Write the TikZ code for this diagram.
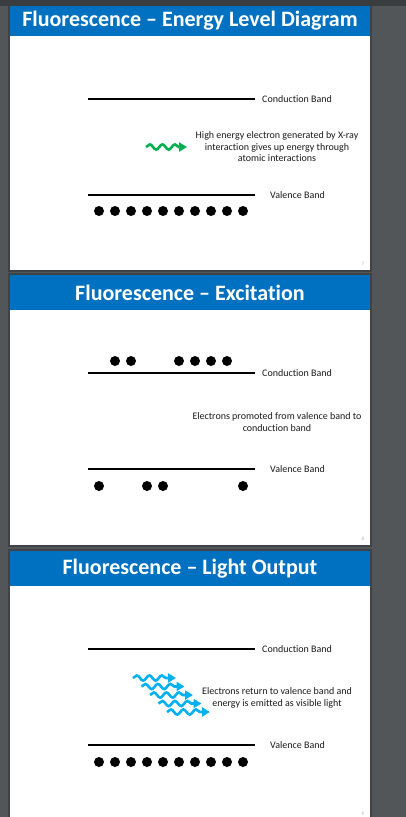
\documentclass[tikz,border=0pt]{standalone}
\usepackage{fontspec}
\setmainfont[Ligatures={NoCommon}]{Carlito}
\usetikzlibrary{arrows.meta, positioning, decorations.pathmorphing}
\definecolor{viewergray}{HTML}{525659}
\definecolor{toolbargray}{HTML}{3A3D40}
\definecolor{shadowgray}{HTML}{404346}
\definecolor{titleblue}{HTML}{0070C0}
\definecolor{xraygreen}{HTML}{00B050}
\definecolor{lightblue}{HTML}{00B0F0}
\definecolor{notegray}{HTML}{1A1A1A}

\begin{document}
\begin{tikzpicture}[x=1pt, y=-1pt,
  slide/.style={fill=white},
  titlebar/.style={fill=titleblue},
  titletext/.style={text=white, inner sep=0pt, font=\fontsize{22}{26}\selectfont\bfseries},
  band/.style={line width=2pt},
  bandlabel/.style={anchor=west, inner sep=0pt, text=notegray, font=\fontsize{10}{11}\selectfont},
  note/.style={align=center, inner sep=0pt, text=notegray, font=\fontsize{10}{11.5}\selectfont},
  electron/.style={circle, fill=black, inner sep=0pt, minimum size=10pt},
  wave/.style={line width=2.6pt, decorate,
    decoration={snake, segment length=12.5pt, amplitude=2.6pt, post length=8pt},
    -{Triangle[length=8pt, width=9pt]}},
  pagenum/.style={inner sep=0pt, text=gray!60, font=\fontsize{5}{6}\selectfont}]

  % viewer background
  \fill[viewergray] (0,0) rectangle (406,817);
  \useasboundingbox (0,0) rectangle (406,817);
  \fill[toolbargray] (0,0) rectangle (406,6);
  \fill[shadowgray] (8,6) rectangle (372,272);
  \fill[shadowgray] (8,273) rectangle (372,547);
  \fill[shadowgray] (8,549) rectangle (372,817);

  % slide 1
  \fill[slide] (10,6) rectangle (370,270);
  \fill[titlebar] (10,6) rectangle (370,36);
  \node[titletext] (title1) at (190,21) {Fluorescence – Energy Level Diagram};
  \coordinate (cb1w) at (88,99);
  \coordinate (cb1e) at (255,99);
  \draw[band] (cb1w) -- (cb1e);
  \node[bandlabel] (cb1lab) at (262,99) {Conduction Band};
  \coordinate (xray1a) at (146,147);
  \coordinate (xray1b) at (187,147);
  \draw[wave, xraygreen] (xray1a) -- (xray1b);
  \node[note] (note1) at (277,147) {High energy electron generated by X-ray\\interaction gives up energy through\\atomic interactions};
  \coordinate (vb1w) at (88,195);
  \coordinate (vb1e) at (255,195);
  \draw[band] (vb1w) -- (vb1e);
  \node[bandlabel] (vb1lab) at (270,195) {Valence Band};
  \foreach \i in {0,...,9}
    \node[electron] (e1v\i) at (99+16*\i,211) {};
  \node[pagenum] (pg7) at (363,264) {7};

  % slide 2
  \fill[slide] (10,275) rectangle (370,545);
  \fill[titlebar] (10,275) rectangle (370,310);
  \node[titletext] (title2) at (190,293) {Fluorescence – Excitation};
  \foreach \x [count=\n] in {115,131,179,195,211,227}
    \node[electron] (e2c\n) at (\x,361) {};
  \coordinate (cb2w) at (88,373);
  \coordinate (cb2e) at (255,373);
  \draw[band] (cb2w) -- (cb2e);
  \node[bandlabel] (cb2lab) at (262,373) {Conduction Band};
  \node[note] (note2) at (277,422) {Electrons promoted from valence band to\\conduction band};
  \coordinate (vb2w) at (88,469);
  \coordinate (vb2e) at (255,469);
  \draw[band] (vb2w) -- (vb2e);
  \node[bandlabel] (vb2lab) at (270,469) {Valence Band};
  \foreach \x [count=\n] in {99,147,163,243}
    \node[electron] (e2v\n) at (\x,486) {};
  \node[pagenum] (pg8) at (363,539) {8};

  % slide 3
  \fill[slide] (10,551) rectangle (370,817);
  \fill[titlebar] (10,551) rectangle (370,586);
  \node[titletext] (title3) at (190,569) {Fluorescence – Light Output};
  \coordinate (cb3w) at (88,649);
  \coordinate (cb3e) at (255,649);
  \draw[band] (cb3w) -- (cb3e);
  \node[bandlabel] (cb3lab) at (262,649) {Conduction Band};
  \foreach \i in {0,...,4} {
    \coordinate (light\i a) at (133+8.5*\i,678+8.5*\i);
    \coordinate (light\i b) at (176+8.5*\i,678+8.5*\i);
    \draw[wave, lightblue] (light\i a) -- (light\i b);
  }
  \node[note] (note3) at (277,698) {Electrons return to valence band and\\energy is emitted as visible light};
  \coordinate (vb3w) at (88,745);
  \coordinate (vb3e) at (255,745);
  \draw[band] (vb3w) -- (vb3e);
  \node[bandlabel] (vb3lab) at (270,745) {Valence Band};
  \foreach \i in {0,...,9}
    \node[electron] (e3v\i) at (99+16*\i,762) {};
  \node[pagenum] (pg9) at (363,814) {9};
\end{tikzpicture}
\end{document}
